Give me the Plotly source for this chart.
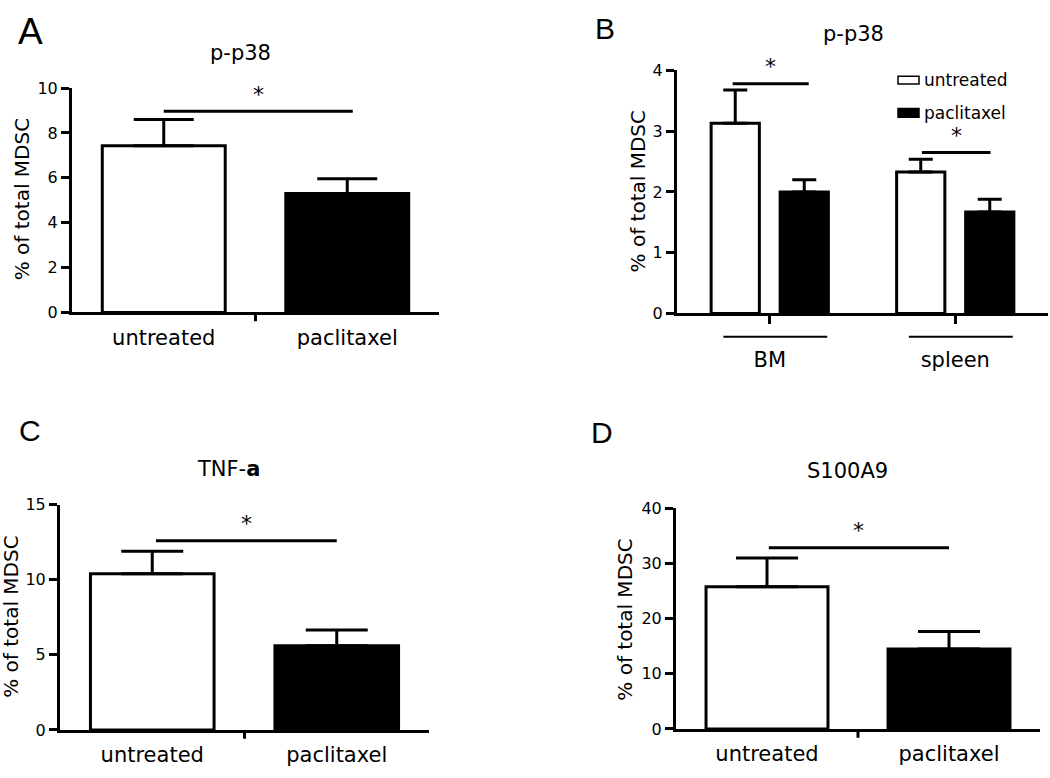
import plotly.graph_objects as go

W, H = 1050, 778
FONT = "DejaVu Sans"
LETTER_FONT = "Liberation Sans"

# ---------------- data ----------------
groups = ["untreated", "paclitaxel"]
group_colors = ["white", "black"]
y_label = "% of total MDSC"

# Panel A: p-p38
a_title = "p-p38"
a_means = [7.43, 5.30]
a_err = [1.17, 0.66]
a_yticks = [0, 2, 4, 6, 8, 10]
a_sig = 8.96

# Panel B: p-p38 by tissue
b_title = "p-p38"
b_tissues = ["BM", "spleen"]
b_untreated = [3.13, 2.33]
b_untreated_err = [0.55, 0.21]
b_paclitaxel = [2.00, 1.67]
b_paclitaxel_err = [0.20, 0.21]
b_yticks = [0, 1, 2, 3, 4]
b_sig = [3.78, 2.65]

# Panel C: TNF-a
c_title = "TNF-<b>a</b>"
c_means = [10.4, 5.6]
c_err = [1.5, 1.05]
c_yticks = [0, 5, 10, 15]
c_sig = 12.6

# Panel D: S100A9
d_title = "S100A9"
d_means = [25.8, 14.5]
d_err = [5.2, 3.2]
d_yticks = [0, 10, 20, 30, 40]
d_sig = 32.9


def px(x):
    return x / W


def py(y):
    return 1 - y / H


fig = go.Figure()

# panel geometry (pixel boxes): x0, x1, ytop, ybottom
panels = {
    "A": dict(ax="", box=(72, 439, 81, 311), yt=a_yticks),
    "B": dict(ax="2", box=(677, 1048, 63, 312), yt=b_yticks),
    "C": dict(ax="3", box=(60, 429, 508, 739), yt=c_yticks),
    "D": dict(ax="4", box=(676, 1040, 512, 738), yt=d_yticks),
}

layout_axes = {}
for name, p in panels.items():
    x0, x1, yt, yb = p["box"]
    s = p["ax"]
    xa = dict(
        domain=[px(x0), px(x1)], range=[-0.5, 1.5], anchor="y" + s,
        showline=True, linewidth=3, linecolor="black", showgrid=False,
        zeroline=False, tickvals=[0, 1], ticktext=groups, ticks="",
        tickfont=dict(family=FONT, size=21, color="black"),
        ticklabelstandoff=4, fixedrange=True,
    )
    ya = dict(
        domain=[py(yb), py(yt)], range=[0, p["yt"][-1]], anchor="x" + s,
        showline=True, linewidth=3, linecolor="black", showgrid=False,
        zeroline=False, tickvals=p["yt"], ticks="outside", ticklen=8,
        tickwidth=3, tickcolor="black",
        tickfont=dict(family=FONT, size=16, color="black"), fixedrange=True,
    )
    layout_axes["xaxis" + s] = xa
    layout_axes["yaxis" + s] = ya

# B uses tissue labels with real ticks
layout_axes["xaxis2"].update(ticktext=b_tissues, ticks="outside", ticklen=8,
                             tickwidth=3, tickcolor="black", ticklabelstandoff=17)

# ---------------- bars ----------------
def add_pair(means, errs, s, cap):
    fig.add_trace(go.Bar(
        x=[0, 1], y=means, width=0.67, xaxis="x" + s, yaxis="y" + s,
        marker=dict(color=group_colors, line=dict(color="black", width=3)),
        error_y=dict(type="data", array=errs, arrayminus=[0, 0], symmetric=False,
                     color="black", thickness=3, width=cap),
        showlegend=False, cliponaxis=False, hoverinfo="skip",
    ))

add_pair(a_means, a_err, "", 30)
add_pair(c_means, c_err, "3", 31)
add_pair(d_means, d_err, "4", 31)

b_off = 0.186
for i, (vals, errs) in enumerate([(b_untreated, b_untreated_err),
                                  (b_paclitaxel, b_paclitaxel_err)]):
    sign = -1 if i == 0 else 1
    fig.add_trace(go.Bar(
        x=[g + sign * b_off for g in range(len(b_tissues))], y=vals, width=0.26,
        xaxis="x2", yaxis="y2", name=groups[i],
        marker=dict(color=group_colors[i], line=dict(color="black", width=3)),
        error_y=dict(type="data", array=errs, arrayminus=[0] * len(errs),
                     symmetric=False, color="black", thickness=3, width=12),
        showlegend=False, cliponaxis=False, hoverinfo="skip",
    ))

shapes = []
annotations = []

# significance brackets
def sig(s, x0, x1, yv):
    shapes.append(dict(type="line", xref="x" + s, yref="y" + s, x0=x0, x1=x1,
                       y0=yv, y1=yv, line=dict(color="black", width=3)))
    annotations.append(dict(xref="x" + s, yref="y" + s, x=(x0 + x1) / 2, y=yv,
                            text="*", showarrow=False, yanchor="middle", yshift=17,
                            font=dict(family=FONT, size=22, color="black")))

sig("", 0.0, 1.03, a_sig)
sig("2", -0.2, 0.21, b_sig[0])
sig("2", 0.82, 1.19, b_sig[1])
sig("3", 0.02, 1.0, c_sig)
sig("4", 0.01, 1.0, d_sig)

# middle ticks on single-pair panels
for s in ["", "3", "4"]:
    ydom = layout_axes["yaxis" + s]["domain"]
    frac = 9 / ((ydom[1] - ydom[0]) * H)
    shapes.append(dict(type="line", xref="x" + s, yref="y" + s + " domain",
                       x0=0.5, x1=0.5, y0=0, y1=-frac,
                       line=dict(color="black", width=3)))

# tissue underlines in B
for g in range(len(b_tissues)):
    shapes.append(dict(type="line", xref="x2", yref="paper", x0=g - 0.25, x1=g + 0.31,
                       y0=py(336), y1=py(336), line=dict(color="black", width=2)))

# legend in B
for i, (ytop, ybot) in enumerate([(69, 77), (102, 111)]):
    shapes.append(dict(type="rect", xref="paper", yref="paper",
                       x0=px(898), x1=px(919), y0=py(ybot), y1=py(ytop),
                       fillcolor=group_colors[i], line=dict(color="black", width=1.5)))
    annotations.append(dict(xref="paper", yref="paper", x=px(922), y=py((ytop + ybot) / 2),
                            text=groups[i], showarrow=False, xanchor="left", yanchor="middle",
                            font=dict(family=FONT, size=17, color="black")))

# titles
for t, cx, cy in [(a_title, 240, 45), (b_title, 853, 26), (c_title, 228, 472), (d_title, 847, 474)]:
    annotations.append(dict(xref="paper", yref="paper", x=px(cx), y=py(cy), text=t,
                            showarrow=False, xanchor="center", yanchor="middle",
                            font=dict(family=FONT, size=21, color="black")))

# y-axis titles
for cx, cy in [(22, 195), (638, 187), (11, 623), (625, 626)]:
    annotations.append(dict(xref="paper", yref="paper", x=px(cx), y=py(cy), text=y_label,
                            showarrow=False, textangle=-90, xanchor="center", yanchor="middle",
                            font=dict(family=FONT, size=20, color="black")))

# panel letters
annotations.append(dict(xref="paper", yref="paper", x=px(30), y=1, text="A",
                        showarrow=False, xanchor="center", yanchor="top",
                        font=dict(family=LETTER_FONT, size=37, color="black")))
for t, cx, cy in [("B", 605, 20), ("C", 30, 432), ("D", 602, 434)]:
    annotations.append(dict(xref="paper", yref="paper", x=px(cx), y=py(cy), text=t,
                            showarrow=False, xanchor="center", yanchor="middle",
                            font=dict(family=LETTER_FONT, size=30, color="black")))

fig.update_layout(
    width=W, height=H, margin=dict(l=0, r=0, t=0, b=0),
    paper_bgcolor="white", plot_bgcolor="white", barmode="overlay",
    hovermode=False, shapes=shapes, annotations=annotations, **layout_axes,
)

fig.write_html(
    "out.html",
    config={"displayModeBar": False, "staticPlot": True},
    post_script="document.body.style.margin='0px';document.body.style.overflow='hidden';",
)
